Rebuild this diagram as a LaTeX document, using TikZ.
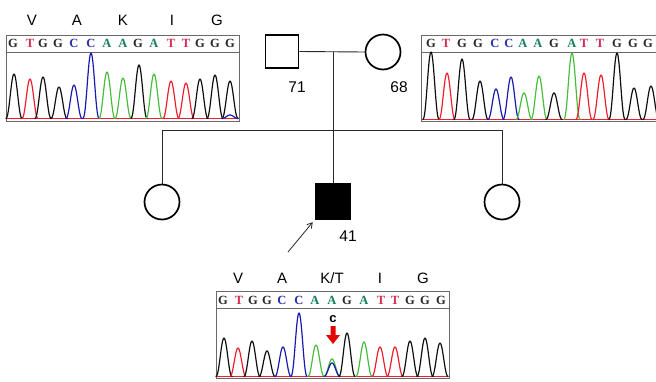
\documentclass[tikz,border=0pt]{standalone}
\usepackage{fontspec}
\setmainfont{Liberation Sans}
\newfontfamily\basefont{Liberation Serif}
\usetikzlibrary{arrows.meta}

\definecolor{trK}{RGB}{15,15,15}
\definecolor{trR}{RGB}{240,30,45}
\definecolor{trB}{RGB}{25,25,175}
\definecolor{trG}{RGB}{70,190,60}
\definecolor{bsG}{RGB}{40,40,40}
\definecolor{bsT}{RGB}{215,45,85}
\definecolor{bsC}{RGB}{45,45,175}
\definecolor{bsA}{RGB}{20,125,95}
\definecolor{frame}{RGB}{105,105,105}
\definecolor{pedline}{RGB}{40,40,40}

\tikzset{
  person/.style={draw=black, line width=1.7pt, inner sep=0pt, minimum size=33pt},
  male/.style={person, rectangle},
  female/.style={person, circle, minimum size=35pt},
  affected/.style={fill=black},
  pedlink/.style={draw=pedline, line width=0.9pt},
  agelabel/.style={anchor=base, font=\fontsize{15.5}{16}\selectfont, inner sep=0pt},
  aalabel/.style={anchor=base, font=\fontsize{15}{16}\selectfont, inner sep=0pt},
  baselabel/.style={anchor=base, font=\basefont\bfseries\fontsize{12.5}{12.5}\selectfont, inner sep=0pt},
  chromobox/.style={draw=frame, line width=1pt},
  trace/.style={line width=1.2pt, line join=round},
}

% one electropherogram peak: colour, centre x, tip y, baseline y
\newcommand\peak[4]{%
  \draw[trace,#1] plot[domain={#2-8.5}:{#2+8.5}, samples=35, smooth]
    (\x,{#4-(#4-#3)*(1-((\x-#2)/8.5)^2)^3});}

\begin{document}
\begin{tikzpicture}[x=1pt,y=-1pt]
\useasboundingbox (0,0) rectangle (656,381);
\clip (0,0) rectangle (656,381);

% ---------- father's sequence trace ----------
\draw[chromobox] (6,35) rectangle (239,121);
\draw[chromobox] (6,52) -- (239,52);
\foreach \t/\x in {V/32,A/77,K/123,I/172,G/217}
  {\node[aalabel] (aaF-\x) at (\x,25) {\t};}
\foreach \bx/\bl/\bc in {13/G/bsG,30/T/bsT,43/G/bsG,58/G/bsG,74/C/bsC,91/C/bsC,107/A/bsA,123/A/bsA,138/G/bsG,154/A/bsA,171/T/bsT,186/T/bsT,200/G/bsG,215/G/bsG,230/G/bsG}
  {\node[baselabel, text=\bc] (bF-\bx) at (\bx,47.5) {\bl};}
\draw[trR, line width=0.8pt] (7,118.5) -- (238,118.5);
\foreach \c/\px/\py in {trK/14/74,trR/30/79,trK/43/77,trK/59/87,trB/74/85,trB/91/53,trG/107/72,trG/123/78,trK/139/65,trG/154/74,trR/171/81,trR/186/83,trK/200/79,trK/215/75,trK/230/81}
  {\peak{\c}{\px}{\py}{118.5}}
\peak{trB}{230}{115}{118.5}

% ---------- mother's sequence trace ----------
\draw[chromobox] (660,35) -- (421,35) -- (421,121) -- (660,121);
\draw[chromobox] (421,52) -- (660,52);
\foreach \bx/\bl/\bc in {431/G/bsG,446/T/bsT,462/G/bsG,478/G/bsG,495/C/bsC,509/C/bsC,523/A/bsA,538/A/bsA,554/G/bsG,572/A/bsA,584/T/bsT,600/T/bsT,617/G/bsG,633/G/bsG,648/G/bsG}
  {\node[baselabel, text=\bc] (bM-\bx) at (\bx,47.5) {\bl};}
\draw[trR, line width=0.8pt] (422,119.5) -- (660,119.5);
\foreach \c/\px/\py in {trK/431/52,trR/447/73,trK/462/59,trK/480/81,trB/496/89,trB/511/77,trG/524/93,trG/539/76,trK/554/93,trG/572/53,trR/584/73,trR/601/75,trK/617/53,trK/634/88,trK/651/86}
  {\peak{\c}{\px}{\py}{119.5}}

% ---------- proband's sequence trace ----------
\draw[chromobox] (216,291) rectangle (449,378);
\draw[chromobox] (216,308) -- (449,308);
\foreach \t/\x in {V/238,A/282,K\slash T/332,I/380,G/423}
  {\node[aalabel] (aaP-\x) at (\x,283.5) {\t};}
\foreach \bx/\bl/\bc in {223/G/bsG,239/T/bsT,253/G/bsG,267/G/bsG,282/C/bsC,299/C/bsC,315/A/bsA,332/A/bsA,347/G/bsG,364/A/bsA,381/T/bsT,395/T/bsT,410/G/bsG,425/G/bsG,441/G/bsG}
  {\node[baselabel, text=\bc] (bP-\bx) at (\bx,304.5) {\bl};}
\draw[trR, line width=0.8pt] (217,376.5) -- (448,376.5);
\foreach \c/\px/\py in {trK/224/338,trR/238/348,trK/252/341,trK/267/351,trB/283/347,trB/299/313,trG/316/345,trG/332/359,trB/332/363,trK/347/333,trG/364/342,trR/380/347,trR/395/347,trK/410/341,trK/425/338,trK/440/343}
  {\peak{\c}{\px}{\py}{376.5}}
% variant call marker
\node[anchor=base, font=\bfseries\fontsize{13}{13}\selectfont, inner sep=0pt] (call) at (333,322) {c};
\fill[red!90!black] (330.5,326) -- (335.5,326) -- (335.5,335) -- (340,335)
  -- (333,344) -- (326,335) -- (330.5,335) -- cycle;

% ---------- pedigree ----------
\node[male]   (father) at (282,51.5) {};
\node[female] (mother) at (383,52) {};
\node[female] (sis1)   at (162,202) {};
\node[male, affected, minimum size=35pt] (proband) at (333,201.5) {};
\node[female] (sis2)   at (502,202) {};

\coordinate (mate)  at (333,52);
\coordinate (sibL)  at (162,130);
\coordinate (sibM)  at (333,130);
\coordinate (sibR)  at (502,130);
\coordinate (ptail) at (288,252);

\draw[pedlink] (father.east) -- (mother.west);
\draw[pedlink] (mate) -- (sibM);
\draw[pedlink] (sibL) -- (sibR);
\draw[pedlink] (sibL) -- (sis1.north);
\draw[pedlink] (sibM) -- (proband.north);
\draw[pedlink] (sibR) -- (sis2.north);
\draw[pedline, line width=0.8pt, -{Straight Barb[length=5pt,width=6pt]}, shorten >=3pt]
  (ptail) -- (proband.south west);

\node[agelabel] (age71) at (297,92) {71};
\node[agelabel] (age68) at (399,92) {68};
\node[agelabel] (age41) at (348,241) {41};
\end{tikzpicture}
\end{document}
